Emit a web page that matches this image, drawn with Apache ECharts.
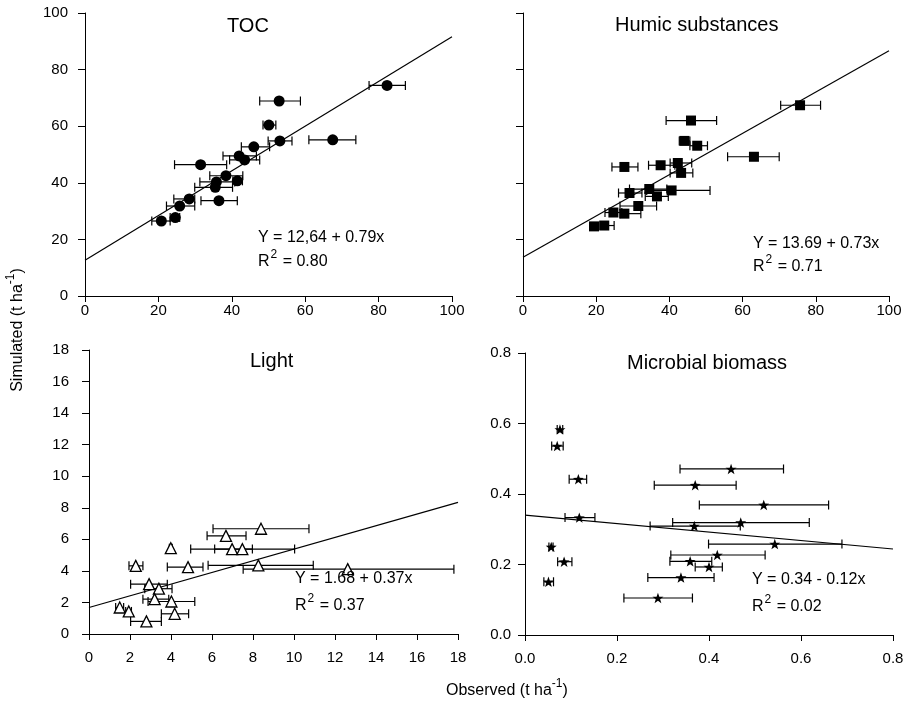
<!DOCTYPE html>
<html>
<head>
<meta charset="utf-8">
<script src="https://cdn.jsdelivr.net/npm/echarts@6/dist/echarts.min.js"></script>
<style>
  html, body { margin: 0; padding: 0; background: #fff; }
  #chart { width: 909px; height: 715px; }
</style>
</head>
<body>
<div id="chart"></div>
<script>
// TOC
const tocObs  = [20.8, 24.6, 25.8, 28.4, 36.5, 31.5, 35.5, 35.8, 38.4, 41.5, 42.0, 43.5, 46.0, 52.9, 50.1, 53.1, 67.5, 82.3];
const tocSim  = [26.5, 27.7, 31.8, 34.3, 33.7, 46.4, 38.4, 40.3, 42.5, 40.7, 49.5, 48.1, 52.7, 68.9, 60.4, 54.8, 55.2, 74.4];
const tocLow  = [18.2, 23.2, 22.2, 24.2, 31.6, 24.4, 29.9, 31.3, 34.0, 40.3, 37.6, 39.4, 42.6, 47.6, 48.5, 49.9, 61.0, 77.4];
const tocHigh = [23.2, 25.8, 29.9, 29.9, 41.5, 38.6, 40.2, 40.8, 43.0, 42.9, 46.7, 47.6, 50.3, 58.7, 52.0, 56.4, 73.8, 87.3];
const tocFit  = [12.64, 0.79];

// Humic substances
const humObs  = [19.4, 22.2, 24.7, 27.7, 29.1, 31.5, 34.5, 36.6, 40.6, 27.7, 37.6, 42.3, 43.2, 44.1, 47.6, 45.9, 63.1, 75.7];
const humSim  = [24.6, 24.9, 29.5, 29.1, 36.4, 31.8, 37.8, 35.2, 37.3, 45.6, 46.2, 47.0, 43.5, 54.8, 53.1, 62.0, 49.2, 67.4];
const humLow  = [18.5, 21.1, 22.4, 26.5, 26.1, 26.5, 29.1, 33.4, 33.8, 24.3, 34.3, 40.2, 40.2, 42.7, 45.6, 39.1, 55.9, 70.4];
const humHigh = [20.4, 24.9, 27.0, 32.2, 32.5, 36.5, 39.3, 39.7, 51.1, 31.4, 41.5, 46.1, 46.4, 45.6, 50.4, 52.9, 70.0, 81.3];
const humFit  = [13.69, 0.73];

// Light
const ligObs  = [8.39, 6.68, 3.99, 6.98, 7.48, 2.28, 4.83, 8.26, 12.62, 2.93, 3.41, 3.20, 4.02, 1.50, 1.94, 4.18, 2.80];
const ligSim  = [6.67, 6.22, 5.44, 5.38, 5.38, 4.32, 4.24, 4.35, 4.11, 3.16, 2.87, 2.21, 2.06, 1.68, 1.43, 1.28, 0.80];
const ligLow  = [6.05, 5.76, 3.92, 6.13, 4.96, 1.95, 3.82, 5.81, 7.52, 2.03, 2.72, 2.63, 2.88, 1.30, 1.79, 3.53, 2.03];
const ligHigh = [10.73, 7.66, 4.06, 7.97, 10.03, 2.63, 5.56, 10.94, 17.8, 3.82, 4.05, 3.89, 5.16, 1.69, 2.07, 4.86, 3.53];
const ligFit  = [1.68, 0.37];

// Microbial biomass
const micObs  = [0.076, 0.070, 0.116, 0.118, 0.057, 0.085, 0.051, 0.448, 0.370, 0.519, 0.469, 0.368, 0.543, 0.418, 0.359, 0.400, 0.339, 0.289];
const micSim  = [0.583, 0.536, 0.442, 0.333, 0.250, 0.208, 0.151, 0.471, 0.425, 0.369, 0.319, 0.309, 0.258, 0.227, 0.209, 0.193, 0.163, 0.105];
const micLow  = [0.070, 0.058, 0.096, 0.087, 0.052, 0.071, 0.041, 0.337, 0.281, 0.379, 0.321, 0.272, 0.399, 0.317, 0.315, 0.370, 0.267, 0.215];
const micHigh = [0.082, 0.083, 0.134, 0.152, 0.061, 0.102, 0.062, 0.562, 0.459, 0.660, 0.618, 0.468, 0.689, 0.522, 0.406, 0.429, 0.411, 0.364];
const micFit  = [0.34, -0.12];

const FONT = "'Liberation Sans', Arial, sans-serif";
const STAR = 'path://M0,-1L0.235,-0.324L0.951,-0.309L0.380,0.124L0.588,0.809L0,0.4L-0.588,0.809L-0.380,0.124L-0.951,-0.309L-0.235,-0.324Z';

let chart = echarts.init(document.getElementById('chart'), null, { renderer: 'canvas' });

function xAxis(idx, max, interval, labelMargin, decimals) {
    return {
        gridIndex: idx, type: 'value', min: 0, max: max, interval: interval,
        splitLine: { show: false },
        axisLine: { show: true, onZero: false, lineStyle: { color: '#000', width: 1 } },
        axisTick: { show: true, inside: false, length: 6, lineStyle: { color: '#000' } },
        axisLabel: {
            show: true, margin: labelMargin, color: '#000', fontFamily: FONT, fontSize: 15,
            formatter: v => decimals ? v.toFixed(decimals) : String(v)
        }
    };
}
function yAxis(idx, max, interval, showLabel, labelMargin, decimals) {
    return {
        gridIndex: idx, type: 'value', min: 0, max: max, interval: interval,
        splitLine: { show: false },
        axisLine: { show: true, onZero: false, lineStyle: { color: '#000', width: 1 } },
        axisTick: { show: true, inside: false, length: 7, lineStyle: { color: '#000' } },
        axisLabel: {
            show: showLabel, margin: labelMargin, color: '#000', fontFamily: FONT, fontSize: 15,
            formatter: v => decimals ? v.toFixed(decimals) : String(v)
        }
    };
}

function errorBars(idx, y, lo, hi) {
    return {
        type: 'custom', xAxisIndex: idx, yAxisIndex: idx, silent: true, z: 2,
        data: y.map((v, i) => [lo[i], hi[i], v]),
        encode: { x: [0, 1], y: 2 },
        renderItem: function (params, api) {
            let a = api.coord([api.value(0), api.value(2)]);
            let b = api.coord([api.value(1), api.value(2)]);
            let h = 4.5;
            let st = { stroke: '#000', lineWidth: 1.2 };
            return {
                type: 'group',
                children: [
                    { type: 'line', shape: { x1: a[0], y1: a[1], x2: b[0], y2: b[1] }, style: st },
                    { type: 'line', shape: { x1: a[0], y1: a[1] - h, x2: a[0], y2: a[1] + h }, style: st },
                    { type: 'line', shape: { x1: b[0], y1: b[1] - h, x2: b[0], y2: b[1] + h }, style: st }
                ]
            };
        }
    };
}

function points(idx, x, y, symbol, size, fill) {
    return {
        type: 'scatter', xAxisIndex: idx, yAxisIndex: idx, z: 3,
        symbol: symbol, symbolSize: size, symbolKeepAspect: true,
        data: x.map((v, i) => [v, y[i]]),
        itemStyle: { color: fill, borderColor: '#000', borderWidth: fill === '#fff' ? 1.3 : 0, opacity: 1 }
    };
}

function fitLine(idx, fit, xmax) {
    return {
        type: 'line', xAxisIndex: idx, yAxisIndex: idx, z: 1, symbol: 'none', silent: true,
        data: [[0, fit[0]], [xmax, fit[0] + fit[1] * xmax]],
        lineStyle: { color: '#000', width: 1.2 }
    };
}

function label(text, left, top, size) {
    return {
        text: text, left: left, top: top, padding: 0,
        textStyle: { fontFamily: FONT, fontSize: size, fontWeight: 'normal', color: '#000' }
    };
}
function rsq(value, left, top) {
    return {
        text: '{b|R}{s|2}{b| = ' + value + '}', left: left, top: top, padding: 0,
        textStyle: {
            fontFamily: FONT, fontSize: 16, fontWeight: 'normal', color: '#000',
            rich: {
                b: { fontFamily: FONT, fontSize: 16, color: '#000', verticalAlign: 'bottom', lineHeight: 20 },
                s: { fontFamily: FONT, fontSize: 12, color: '#000', verticalAlign: 'bottom', lineHeight: 20, padding: [0, 1, 9, 1] }
            }
        }
    };
}

let option = {
    backgroundColor: '#fff',
    animation: false,
    grid: [
        { left: 85, top: 13, width: 367, height: 283 },
        { left: 523, top: 13, width: 366, height: 283 },
        { left: 89, top: 350, width: 369, height: 284 },
        { left: 525, top: 353, width: 368, height: 282 }
    ],
    xAxis: [
        xAxis(0, 100, 20, 7, 0),
        xAxis(1, 100, 20, 7, 0),
        xAxis(2, 18, 2, 16, 0),
        xAxis(3, 0.8, 0.2, 16, 1)
    ],
    yAxis: [
        yAxis(0, 100, 20, true, 17, 0),
        yAxis(1, 100, 20, false, 14, 0),
        yAxis(2, 18, 2, true, 20, 0),
        yAxis(3, 0.8, 0.2, true, 14, 1)
    ],
    title: [
        label('TOC', 227, 16, 20),
        label('Humic substances', 615, 15, 20),
        label('Light', 250, 351, 20),
        label('Microbial biomass', 627, 353, 20),
        label('Y = 12,64 + 0.79x', 258, 230, 16),
        rsq('0.80', 258, 250),
        label('Y = 13.69 + 0.73x', 753, 236, 16),
        rsq('0.71', 753, 255),
        label('Y = 1.68 + 0.37x', 295, 571, 16),
        rsq('0.37', 295, 594),
        label('Y = 0.34 - 0.12x', 752, 572, 16),
        rsq('0.02', 752, 595),
        {
            text: '{b|Observed (t ha}{s|-1}{b|)}', left: 446, top: 679, padding: 0,
            textStyle: {
                fontFamily: FONT, fontSize: 16, fontWeight: 'normal', color: '#000',
                rich: {
                    b: { fontFamily: FONT, fontSize: 16, color: '#000', verticalAlign: 'bottom', lineHeight: 20 },
                    s: { fontFamily: FONT, fontSize: 12, color: '#000', verticalAlign: 'bottom', lineHeight: 20, padding: [0, 0, 9, 0] }
                }
            }
        }
    ],
    graphic: [
        {
            type: 'text', x: 16, y: 330, rotation: Math.PI / 2,
            style: {
                text: '{b|Simulated (t ha}{s|-1}{b|)}',
                align: 'center', verticalAlign: 'middle',
                fill: '#000', font: '16px ' + FONT,
                rich: {
                    b: { fontFamily: FONT, fontSize: 16, fill: '#000', color: '#000', verticalAlign: 'bottom', lineHeight: 20 },
                    s: { fontFamily: FONT, fontSize: 12, fill: '#000', color: '#000', verticalAlign: 'bottom', lineHeight: 20, padding: [0, 0, 9, 0] }
                }
            }
        }
    ],
    series: [
        fitLine(0, tocFit, 100),
        errorBars(0, tocSim, tocLow, tocHigh),
        points(0, tocObs, tocSim, 'circle', 11, '#000'),

        fitLine(1, humFit, 100),
        errorBars(1, humSim, humLow, humHigh),
        points(1, humObs, humSim, 'rect', 10, '#000'),

        fitLine(2, ligFit, 18),
        errorBars(2, ligSim, ligLow, ligHigh),
        points(2, ligObs, ligSim, 'triangle', 11, '#fff'),

        fitLine(3, micFit, 0.8),
        errorBars(3, micSim, micLow, micHigh),
        points(3, micObs, micSim, STAR, 11, '#000')
    ]
};
chart.setOption(option);
</script>
</body>
</html>
